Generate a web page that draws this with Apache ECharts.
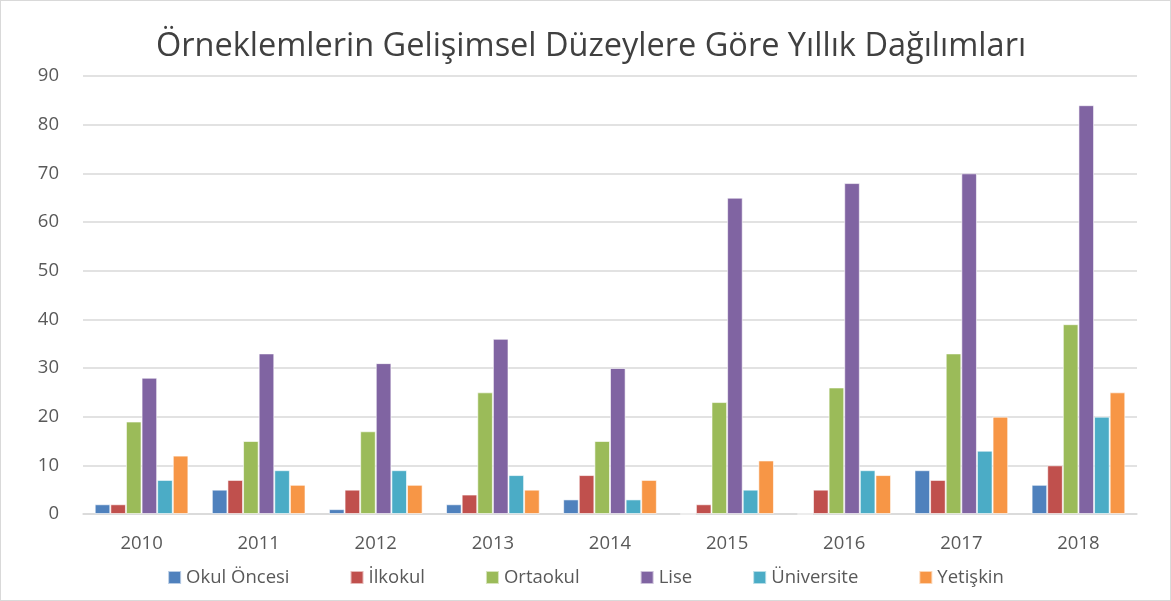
<!DOCTYPE html>
<html>
<head>
<meta charset="utf-8">
<script src="https://cdn.jsdelivr.net/npm/echarts@6/dist/echarts.min.js"></script>
<style>
  html, body { margin: 0; padding: 0; background: #fff; }
  #chart { width: 1171px; height: 601px; box-sizing: border-box; border: 1px solid #d9d9d9; }
</style>
</head>
<body>
<div id="chart"></div>
<script>
  const years = ["2010", "2011", "2012", "2013", "2014", "2015", "2016", "2017", "2018"];
  const okulOncesi = [2, 5, 1, 2, 3, 0, 0, 9, 6];
  const ilkokul = [2, 7, 5, 4, 8, 2, 5, 7, 10];
  const ortaokul = [19, 15, 17, 25, 15, 23, 26, 33, 39];
  const lise = [28, 33, 31, 36, 30, 65, 68, 70, 84];
  const universite = [7, 9, 9, 8, 3, 5, 9, 13, 20];
  const yetiskin = [12, 6, 6, 5, 7, 11, 8, 20, 25];

  const seriesNames = ["Okul Öncesi", "İlkokul", "Ortaokul", "Lise", "Üniversite", "Yetişkin"];
  const seriesData = [okulOncesi, ilkokul, ortaokul, lise, universite, yetiskin];
  const colors = ["#4F81BD", "#C0504D", "#9BBB59", "#8064A2", "#4BACC6", "#F79646"];

  const font = "'Open Sans', 'Noto Sans', sans-serif";
  const chart = echarts.init(document.getElementById("chart"));

  chart.setOption({
    color: colors,
    animation: false,
    textStyle: { fontFamily: font },
    title: {
      text: "Örneklemlerin Gelişimsel Düzeylere Göre Yıllık Dağılımları",
      left: 585,
      textAlign: "center",
      top: 24,
      textStyle: { fontSize: 32.5, fontWeight: "normal", color: "#404040", fontFamily: font }
    },
    legend: {
      bottom: 8,
      left: "center",
      itemWidth: 13,
      itemHeight: 13,
      itemGap: 60,
      icon: "rect",
      textStyle: { fontSize: 18.5, color: "#595959" },
      data: seriesNames
    },
    grid: { left: 82, right: 33, top: 75, bottom: 86 },
    xAxis: {
      type: "category",
      data: years,
      axisTick: { show: false },
      axisLine: { lineStyle: { color: "#d9d9d9", width: 1.5 } },
      axisLabel: { fontSize: 18.5, color: "#595959", margin: 20 }
    },
    yAxis: {
      type: "value",
      min: 0,
      max: 90,
      interval: 10,
      axisLine: { show: false },
      axisTick: { show: false },
      splitLine: { lineStyle: { color: "#d9d9d9", width: 1.5 } },
      axisLabel: { fontSize: 18.5, color: "#595959", margin: 24 }
    },
    series: seriesNames.map((name, i) => ({
      name: name,
      type: "bar",
      data: seriesData[i],
      barGap: "0%",
      barCategoryGap: "20%",
      itemStyle: { borderColor: "rgba(255,255,255,0.6)", borderWidth: 1 }
    }))
  });
</script>
</body>
</html>
